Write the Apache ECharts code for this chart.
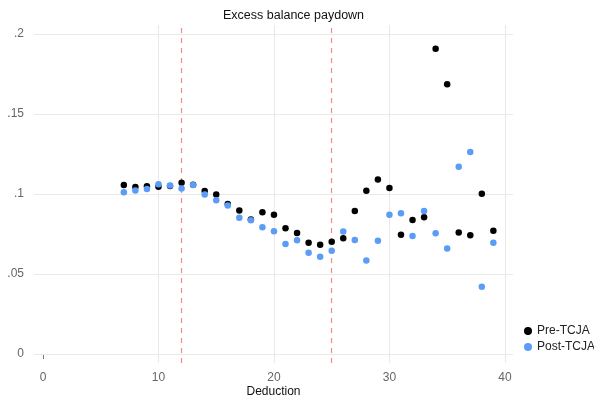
<!DOCTYPE html>
<html><head><meta charset="utf-8">
<script src="https://cdn.jsdelivr.net/npm/echarts@6/dist/echarts.min.js"></script>
<style>html,body{margin:0;padding:0;background:#fff}#c{width:594px;height:396px}</style>
</head><body><div id="c"></div>
<script>
const deduction = [7,8,9,10,11,12,13,14,15,16,17,18,19,20,21,22,23,24,25,26,27,28,29,30,31,32,33,34,35,36,37,38,39];
const preTCJA = [0.1057,0.1043,0.1049,0.1045,0.1050,0.1070,0.1058,0.1018,0.0997,0.0938,0.0897,0.0840,0.0886,0.0870,0.0786,0.0757,0.0696,0.0683,0.0702,0.0724,0.0893,0.1020,0.1091,0.1037,0.0746,0.0838,0.0855,0.1908,0.1686,0.0759,0.0742,0.1001,0.0771];
const postTCJA = [0.1011,0.1022,0.1032,0.1061,0.1053,0.1035,0.1057,0.0997,0.0961,0.0928,0.0851,0.0836,0.0792,0.0767,0.0688,0.0711,0.0633,0.0608,0.0646,0.0765,0.0712,0.0585,0.0708,0.0871,0.0880,0.0737,0.0893,0.0754,0.0660,0.1171,0.1262,0.0420,0.0696];
const xTicks = [0,10,20,30,40];
const xGridLines = [10,20,30,40];
const yTicks = [0,0.05,0.1,0.15,0.2];
const yTickLabels = ['0','.05','.1','.15','.2'];
const refLines = [12,25];

const chart = echarts.init(document.getElementById('c'), null, {renderer:'canvas'});
const font = 'Liberation Sans, Arial, sans-serif';
const gridStyle = {color: '#e9e9e9', type: 'solid', width: 1};
const refColor = '#f08c8c';
const gridLines = [];
yTicks.forEach(v => gridLines.push({yAxis: v, lineStyle: gridStyle}));
xGridLines.forEach(v => gridLines.push({xAxis: v, lineStyle: gridStyle}));
chart.setOption({
  animation: false,
  title: {text: 'Excess balance paydown', left: 218, top: 4,
    textStyle: {fontFamily: font, fontSize: 12.5, fontWeight: 'normal', color: '#111'}},
  legend: {orient: 'vertical', left: 519, top: 320, itemGap: 4, itemWidth: 8, itemHeight: 8,
    icon: 'circle', textStyle: {fontFamily: font, fontSize: 12, color: '#222'},
    data: ['Pre-TCJA','Post-TCJA']},
  grid: {left: 34, right: 81, top: 25, bottom: 33, containLabel: false, outerBoundsMode: 'none'},
  xAxis: {type: 'value', min: -0.78, max: 40.7,
    name: 'Deduction', nameLocation: 'middle', nameGap: 23, nameMoveOverlap: false,
    nameTextStyle: {fontFamily: font, fontSize: 12, color: '#111'},
    axisLine: {show: false},
    axisTick: {show: true, length: 5, customValues: xTicks, lineStyle: {color: '#777'}},
    axisLabel: {customValues: xTicks, margin: 9, fontFamily: font, fontSize: 12, color: '#666'},
    splitLine: {show: false}},
  yAxis: {type: 'value', min: -0.0056, max: 0.2056,
    axisLine: {show: false},
    axisTick: {show: true, length: 5, customValues: yTicks, lineStyle: {color: '#777'}},
    axisLabel: {customValues: yTicks, margin: 10, fontFamily: font, fontSize: 12, color: '#666',
      formatter: v => { const i = yTicks.findIndex(t => Math.abs(t - v) < 1e-9); return i >= 0 ? yTickLabels[i] : ''; }},
    splitLine: {show: false}},
  series: [
    {name: 'Pre-TCJA', type: 'scatter', symbolSize: 6.5, itemStyle: {color: '#000', opacity: 1},
      data: deduction.map((d,i) => [d, preTCJA[i]]), z: 3,
      markLine: {silent: true, symbol: 'none', z: 1, label: {show: false},
        lineStyle: gridStyle, data: gridLines}},
    {name: 'Post-TCJA', type: 'scatter', symbolSize: 6.5, itemStyle: {color: '#5b9cf6', opacity: 1},
      data: deduction.map((d,i) => [d, postTCJA[i]]), z: 4},
    {name: 'ref', type: 'line', data: [], silent: true,
      markLine: {silent: true, symbol: 'none', z: 2, label: {show: false},
        lineStyle: {color: refColor, type: [5,5], width: 1.2},
        data: refLines.map(v => ({xAxis: v}))}}
  ]
});
</script></body></html>
